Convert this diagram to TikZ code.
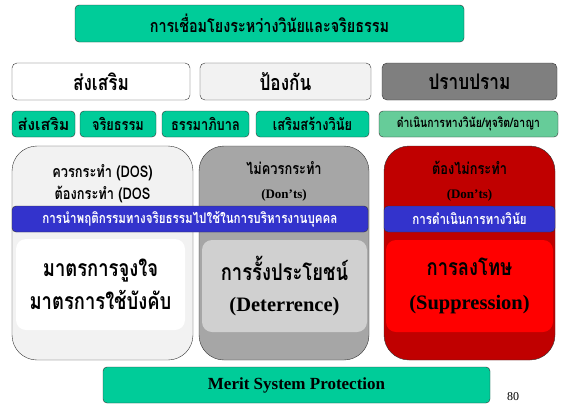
\documentclass[tikz,border=0pt]{standalone}
\usepackage{fontspec}
\setmainfont{Liberation Serif}
\newfontfamily\thaifont[Script=Thai,FakeStretch=0.8]{Loma}
\newfontfamily\thaiwide[Script=Thai]{Loma}
\usetikzlibrary{positioning}
\definecolor{mintgreen}{HTML}{00CC99}
\definecolor{palegreen}{HTML}{66CC99}
\definecolor{paperwhite}{HTML}{F2F2F2}
\definecolor{stonegray}{HTML}{7F7F7F}
\definecolor{ashgray}{HTML}{A6A6A6}
\definecolor{mistgray}{HTML}{D0D0D0}
\definecolor{darkred}{HTML}{C00000}
\definecolor{barblue}{HTML}{3333CC}
\newcommand\fsz[1]{\fontsize{#1}{#1}\selectfont}
\tikzset{
  greenbox/.style={
    draw=black!80,
    fill=mintgreen,
    rounded corners=4pt,
    inner sep=0pt,
    font=\thaifont\bfseries
  },
  catbox/.style={
    draw=black!80,
    rounded corners=5pt,
    minimum height=37pt,
    inner sep=0pt,
    font=\thaifont\bfseries\fsz{21.5}
  },
  tagbox/.style={
    greenbox,
    minimum height=26pt,
    font=\thaifont\bfseries\fsz{16}
  },
  colbox/.style={
    draw=black!80,
    rounded corners=25pt,
    minimum height=214pt,
    inner sep=0pt
  },
  barbox/.style={
    draw=black!80,
    fill=barblue,
    rounded corners=4pt,
    minimum height=26pt,
    inner sep=0pt,
    text=white,
    font=\thaifont\bfseries\fsz{14.5}
  },
  innerbox/.style={
    rounded corners=10pt,
    inner sep=0pt,
    align=center,
    font=\bfseries\fsz{20.5}
  },
  headtext/.style={
    align=center,
    inner sep=0pt,
    font=\thaifont\bfseries\fontsize{16}{22}\selectfont
  }
}

\begin{document}
\begin{tikzpicture}[x=1pt,y=-1pt]
\useasboundingbox (0,0) rectangle (563,405);

% title
\node[greenbox, minimum width=389pt, minimum height=37pt,
  font=\thaifont\bfseries\fsz{18}] (title) at (269.5,23.5)
  {การเชื่อมโยงระหว่างวินัยและจริยธรรม};

% categories
\node[catbox, fill=white, minimum width=178pt] (promote) at (101,81.5) {ส่งเสริม};
\node[catbox, fill=paperwhite, minimum width=171pt] (prevent) at (285.5,81.5) {ป้องกัน};
\node[catbox, fill=stonegray, minimum width=175pt] (suppress) at (469.5,81.5) {ปราบปราม};

% tags
\node[tagbox, minimum width=63pt, font=\thaiwide\bfseries\fsz{16}] (tag1) at (43.5,124) {ส่งเสริม};
\node[tagbox, minimum width=76pt] (tag2) at (118,124) {จริยธรรม};
\node[tagbox, minimum width=87pt] (tag3) at (205.5,124) {ธรรมาภิบาล};
\node[tagbox, minimum width=113pt] (tag4) at (312.5,124) {เสริมสร้างวินัย};
\node[tagbox, fill=palegreen, minimum width=179pt,
  font=\thaifont\bfseries\fsz{13}] (tag5) at (468.5,124)
  {ดำเนินการทางวินัย/ทุจริต/อาญา};

% columns
\node[colbox, fill=paperwhite, minimum width=181pt] (col1) at (102.5,253) {};
\node[colbox, fill=ashgray, minimum width=170pt] (col2) at (284,253) {};
\node[colbox, fill=darkred, minimum width=171pt] (col3) at (469.5,253) {};

\node[headtext] (dos) at (102.5,184) {ควรกระทำ (DOS)\\ต้องกระทำ (DOS};
\node[headtext] (dont) at (284,181.5)
  {ไม่ควรกระทำ\\[2pt]{\normalfont\bfseries\fsz{13}(Don’ts)}};
\node[headtext] (mustnot) at (469.5,181.5)
  {ต้องไม่กระทำ\\[2pt]{\normalfont\bfseries\fsz{13}(Don’ts)}};

% bars
\node[barbox, minimum width=356pt] (bar1) at (190,219)
  {การนำพฤติกรรมทางจริยธรรมไปใช้ในการบริหารงานบุคคล};
\node[barbox, minimum width=171pt] (bar2) at (469.5,219) {การดำเนินการทางวินัย};

% measures
\node[innerbox, fill=white, minimum width=169pt, minimum height=91pt,
  font=\thaifont\bfseries\fontsize{23}{33}\selectfont] (carrot) at (100.5,284.5)
  {มาตรการจูงใจ\\มาตรการใช้บังคับ};
\node[innerbox, fill=mistgray, minimum width=165pt, minimum height=92pt]
  (deter) at (284.5,286)
  {{\thaifont\fsz{23}การรั้งประโยชน์}\\[11pt](Deterrence)};
\node[innerbox, fill=red, minimum width=167pt, minimum height=92pt]
  (punish) at (469.5,286)
  {{\thaifont\fsz{23}การลงโทษ}\\[13pt](Suppression)};

% bottom
\node[greenbox, minimum width=387pt, minimum height=36pt,
  font=\normalfont\bfseries\fsz{17}] (merit) at (296.5,385)
  {Merit System Protection};
\node[inner sep=0pt, font=\fsz{12}] (page) at (513,397) {80};
\end{tikzpicture}
\end{document}
